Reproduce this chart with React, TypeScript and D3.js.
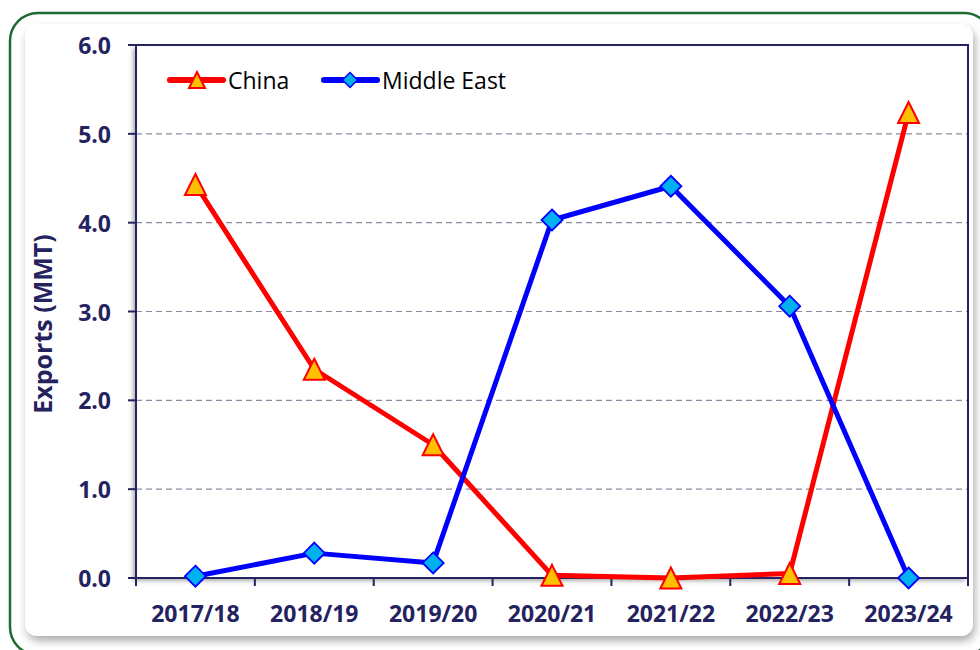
import React from 'react';
import * as d3 from 'd3';

const categories = ['2017/18', '2018/19', '2019/20', '2020/21', '2021/22', '2022/23', '2023/24'];
const chinaValues = [4.43, 2.35, 1.5, 0.03, 0.0, 0.05, 5.24];
const middleEastValues = [0.02, 0.28, 0.17, 4.03, 4.41, 3.06, 0.0];
const yTicks = [0, 1, 2, 3, 4, 5, 6];
const seriesNames = ['China', 'Middle East'];
const yTitle = 'Exports (MMT)';

const W = 980;
const H = 650;
const plot = { left: 136, right: 968, top: 45, bottom: 578 };
const NAVY = '#24235F';
const FONT = "'Open Sans', 'Liberation Sans', sans-serif";

function trianglePath(cx: number, cy: number, r: number) {
  return `M${cx},${cy - r} L${cx + r},${cy + r} L${cx - r},${cy + r} Z`;
}
function diamondPath(cx: number, cy: number, r: number) {
  return `M${cx},${cy - r} L${cx + r},${cy} L${cx},${cy + r} L${cx - r},${cy} Z`;
}

export default function App() {
  const x = d3.scaleBand<string>().domain(categories).range([plot.left, plot.right]);
  const y = d3.scaleLinear().domain([0, 6]).range([plot.bottom, plot.top]);
  const xc = (c: string) => (x(c) as number) + x.bandwidth() / 2;

  const line = d3
    .line<[string, number]>()
    .x((d) => xc(d[0]))
    .y((d) => y(d[1]));

  const china = categories.map((c, i) => [c, chinaValues[i]] as [string, number]);
  const me = categories.map((c, i) => [c, middleEastValues[i]] as [string, number]);

  const step = x.step();
  const boundaries = d3.range(categories.length + 1).map((i) => plot.left + i * step);

  return (
    <svg
      width={W}
      height={H}
      style={{ position: 'absolute', left: 0, top: 0, background: '#fff' }}
      fontFamily={FONT}
    >
      <defs>
        <filter id="panelShadow" x="-5%" y="-5%" width="110%" height="115%">
          <feDropShadow dx="2" dy="5" stdDeviation="4" floodColor="#8a8a8a" floodOpacity="0.7" />
        </filter>
        <filter id="plotShadow" x="-5%" y="-5%" width="110%" height="110%">
          <feDropShadow dx="-3" dy="3" stdDeviation="2" floodColor="#777" floodOpacity="0.6" />
        </filter>
      </defs>

      {/* outer green frame */}
      <rect x={10} y={13} width={982} height={642} rx={28} fill="#fff" stroke="#1F6B34" strokeWidth={2.5} />
      {/* inner panel */}
      <rect x={25} y={24} width={948} height={612} rx={12} fill="#fff" filter="url(#panelShadow)" />

      {/* plot area */}
      <rect
        x={plot.left}
        y={plot.top}
        width={plot.right - plot.left}
        height={plot.bottom - plot.top}
        fill="#fff"
        filter="url(#plotShadow)"
      />

      {/* gridlines */}
      {yTicks
        .filter((t) => t > 0 && t < 6)
        .map((t) => (
          <line
            key={'g' + t}
            x1={plot.left}
            x2={plot.right}
            y1={y(t)}
            y2={y(t)}
            stroke="#8C8CA0"
            strokeWidth={1.2}
            strokeDasharray="6,4"
          />
        ))}

      {/* plot border */}
      <rect
        x={plot.left}
        y={plot.top}
        width={plot.right - plot.left}
        height={plot.bottom - plot.top}
        fill="none"
        stroke={NAVY}
        strokeWidth={2}
      />

      {/* y ticks and labels */}
      {yTicks.map((t) => (
        <g key={'y' + t}>
          <line x1={plot.left - 8} x2={plot.left} y1={y(t)} y2={y(t)} stroke={NAVY} strokeWidth={2} />
          <text
            x={111}
            y={y(t)}
            textAnchor="end"
            dominantBaseline="central"
            fontSize={23}
            fontWeight={700}
            fill={NAVY}
          >
            {t.toFixed(1)}
          </text>
        </g>
      ))}

      {/* x ticks */}
      {boundaries.map((bx, i) => (
        <line key={'xt' + i} x1={bx} x2={bx} y1={plot.bottom} y2={plot.bottom + 8} stroke={NAVY} strokeWidth={2} />
      ))}
      {categories.map((c) => (
        <text key={'xl' + c} x={xc(c)} y={622} textAnchor="middle" fontSize={23} fontWeight={700} fill={NAVY}>
          {c}
        </text>
      ))}

      {/* y title */}
      <text
        transform={`translate(52,324) rotate(-90)`}
        textAnchor="middle"
        fontSize={25}
        fontWeight={700}
        fill={NAVY}
      >
        {yTitle}
      </text>

      {/* series lines */}
      <path d={line(china) || ''} fill="none" stroke="#FF0000" strokeWidth={5} strokeLinejoin="round" />
      <path d={line(me) || ''} fill="none" stroke="#0000FF" strokeWidth={5} strokeLinejoin="round" />

      {/* markers */}
      {me.map((d, i) => (
        <path
          key={'md' + i}
          d={diamondPath(xc(d[0]), y(d[1]), 10.5)}
          fill="#00B0F0"
          stroke="#0000FF"
          strokeWidth={1.8}
        />
      ))}
      {china.map((d, i) => (
        <path
          key={'ct' + i}
          d={trianglePath(xc(d[0]), y(d[1]), 10.5)}
          fill="#FFC000"
          stroke="#FF0000"
          strokeWidth={2}
          strokeLinejoin="miter"
        />
      ))}

      {/* legend */}
      <g>
        <line x1={170} x2={223} y1={80} y2={80} stroke="#FF0000" strokeWidth={6} strokeLinecap="round" />
        <path d={trianglePath(197, 80, 8)} fill="#FFC000" stroke="#FF0000" strokeWidth={2} />
        <text x={228} y={80} dominantBaseline="central" fontSize={23} fill="#000">
          {seriesNames[0]}
        </text>
        <line x1={324} x2={377} y1={80} y2={80} stroke="#0000FF" strokeWidth={6} strokeLinecap="round" />
        <path d={diamondPath(350, 80, 7.5)} fill="#00B0F0" stroke="#0000FF" strokeWidth={1.5} />
        <text x={382} y={80} dominantBaseline="central" fontSize={23} fill="#000">
          {seriesNames[1]}
        </text>
      </g>
    </svg>
  );
}
